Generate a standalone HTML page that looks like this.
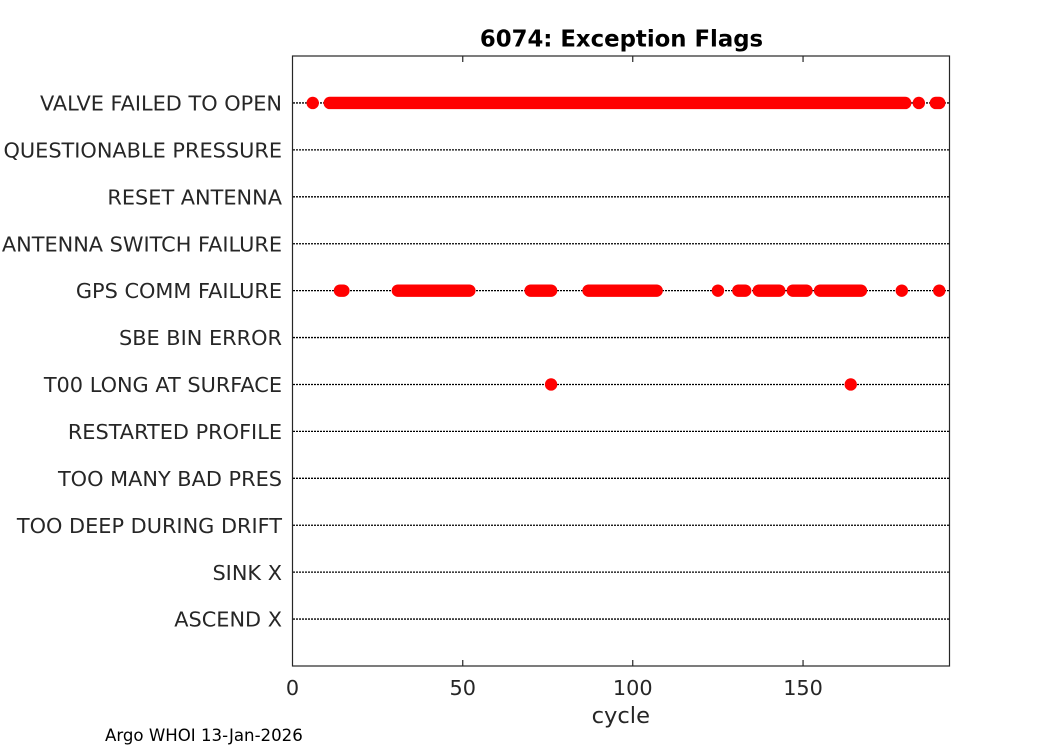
<!DOCTYPE html>
<html>
<head>
<meta charset="utf-8">
<style>
  html, body { margin: 0; padding: 0; background: #ffffff; }
  body { width: 1050px; height: 750px; overflow: hidden; }
  svg { display: block; }
  text { font-family: "DejaVu Sans", "Liberation Sans", sans-serif; }
</style>
</head>
<body>
<svg width="1050" height="750" viewBox="0 0 1050 750" xmlns="http://www.w3.org/2000/svg">
  <rect x="0" y="0" width="1050" height="750" fill="#ffffff"/>

  <!-- dotted row lines -->
  <g stroke="#000000" stroke-width="1.3" stroke-dasharray="2 1" fill="none">
    <line x1="293" y1="102.96" x2="949" y2="102.96"/>
    <line x1="293" y1="149.88" x2="949" y2="149.88"/>
    <line x1="293" y1="196.80" x2="949" y2="196.80"/>
    <line x1="293" y1="243.72" x2="949" y2="243.72"/>
    <line x1="293" y1="290.64" x2="949" y2="290.64"/>
    <line x1="293" y1="337.56" x2="949" y2="337.56"/>
    <line x1="293" y1="384.48" x2="949" y2="384.48"/>
    <line x1="293" y1="431.40" x2="949" y2="431.40"/>
    <line x1="293" y1="478.32" x2="949" y2="478.32"/>
    <line x1="293" y1="525.24" x2="949" y2="525.24"/>
    <line x1="293" y1="572.16" x2="949" y2="572.16"/>
    <line x1="293" y1="619.08" x2="949" y2="619.08"/>
  </g>

  <!-- markers -->
  <g stroke="#ff0000" stroke-width="12.4" stroke-linecap="round" fill="none">
    <!-- VALVE FAILED TO OPEN -->
    <line x1="329.76" y1="102.96" x2="905.2" y2="102.96"/>
    <line x1="935.85" y1="102.96" x2="939.25" y2="102.96"/>
    <!-- GPS COMM FAILURE -->
    <line x1="339.97" y1="290.64" x2="343.38" y2="290.64"/>
    <line x1="397.86" y1="290.64" x2="469.36" y2="290.64"/>
    <line x1="530.65" y1="290.64" x2="551.08" y2="290.64"/>
    <line x1="588.54" y1="290.64" x2="656.64" y2="290.64"/>
    <line x1="738.36" y1="290.64" x2="745.17" y2="290.64"/>
    <line x1="758.79" y1="290.64" x2="779.22" y2="290.64"/>
    <line x1="792.84" y1="290.64" x2="806.46" y2="290.64"/>
    <line x1="820.08" y1="290.64" x2="860.94" y2="290.64"/>
  </g>
  <g fill="#ff0000">
    <circle cx="312.73" cy="102.96" r="6.2"/>
    <circle cx="918.82" cy="102.96" r="6.2"/>
    <circle cx="717.93" cy="290.64" r="6.2"/>
    <circle cx="901.80" cy="290.64" r="6.2"/>
    <circle cx="939.25" cy="290.64" r="6.2"/>
    <circle cx="551.08" cy="384.48" r="6.2"/>
    <circle cx="850.72" cy="384.48" r="6.2"/>
  </g>

  <!-- axes box -->
  <g stroke="#262626" stroke-width="1.2" fill="none">
    <rect x="292.5" y="56" width="657" height="610"/>
    <line x1="462.75" y1="666" x2="462.75" y2="660"/>
    <line x1="632.75" y1="666" x2="632.75" y2="660"/>
    <line x1="803.05" y1="666" x2="803.05" y2="660"/>
    <line x1="462.75" y1="56" x2="462.75" y2="62"/>
    <line x1="632.75" y1="56" x2="632.75" y2="62"/>
    <line x1="803.05" y1="56" x2="803.05" y2="62"/>
  </g>

  <!-- y tick labels -->
  <g fill="#262626" font-size="20.85" text-anchor="end">
    <text x="282" y="110.6">VALVE FAILED TO OPEN</text>
    <text x="282" y="157.5">QUESTIONABLE PRESSURE</text>
    <text x="282" y="204.4">RESET ANTENNA</text>
    <text x="282" y="251.3">ANTENNA SWITCH FAILURE</text>
    <text x="282" y="298.2">GPS COMM FAILURE</text>
    <text x="282" y="345.2">SBE BIN ERROR</text>
    <text x="282" y="392.1">T00 LONG AT SURFACE</text>
    <text x="282" y="439.0">RESTARTED PROFILE</text>
    <text x="282" y="485.9">TOO MANY BAD PRES</text>
    <text x="282" y="532.8">TOO DEEP DURING DRIFT</text>
    <text x="282" y="579.8">SINK X</text>
    <text x="282" y="626.7">ASCEND X</text>
  </g>

  <!-- x tick labels -->
  <g fill="#262626" font-size="20.8" text-anchor="middle">
    <text x="292.5" y="695">0</text>
    <text x="462.75" y="695">50</text>
    <text x="632.75" y="695">100</text>
    <text x="803.05" y="695">150</text>
  </g>

  <!-- x label -->
  <text x="620.8" y="723" fill="#262626" font-size="22.6" text-anchor="middle">cycle</text>

  <!-- title -->
  <text x="621.5" y="46.5" fill="#000000" font-size="22.8" font-weight="bold" text-anchor="middle">6074: Exception Flags</text>

  <!-- footer -->
  <text x="105" y="741" fill="#000000" font-size="16.6">Argo WHOI 13-Jan-2026</text>
</svg>
</body>
</html>
